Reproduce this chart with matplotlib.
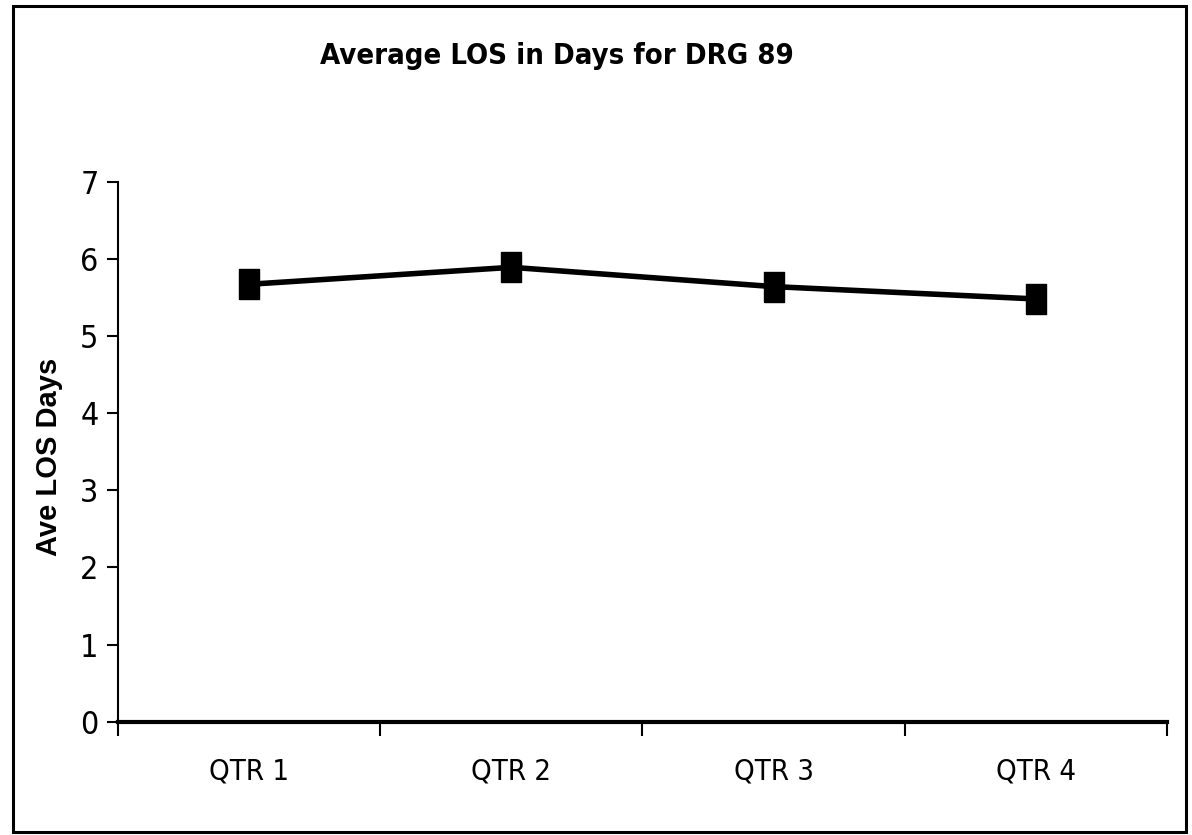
import matplotlib
matplotlib.use('Agg')
import matplotlib.pyplot as plt
from matplotlib.patches import Rectangle

# data
quarters = ['QTR 1', 'QTR 2', 'QTR 3', 'QTR 4']
avg_los = [5.67, 5.89, 5.64, 5.48]

NARROW = ['DejaVu Sans']

fig = plt.figure(figsize=(11.92, 8.35), dpi=100)
# outer frame like the spreadsheet chart area
fig.patches.append(Rectangle((0.011, 0.003), 0.984, 0.990, transform=fig.transFigure,
                             fill=False, edgecolor='black', linewidth=2.2))

ax = fig.add_axes([0.099, 0.1357, 0.880, 0.6467])
x = list(range(len(quarters)))
# tall square marker, like the excel one
tall_box = [(-0.68, -1), (0.68, -1), (0.68, 1), (-0.68, 1), (-0.68, -1)]
ax.plot(x, avg_los, color='black', linewidth=4, marker=tall_box, markersize=21,
        markerfacecolor='black', markeredgecolor='black', solid_joinstyle='round')

ax.set_xlim(-0.5, len(quarters) - 0.5)
ax.set_ylim(0, 7)
ax.set_yticks(range(0, 8))
ax.set_xticks(x)
ax.set_xticklabels(quarters)
ax.set_xticks([i - 0.5 for i in range(len(quarters) + 1)], minor=True)

for s in ['top', 'right']:
    ax.spines[s].set_visible(False)
ax.spines['left'].set_linewidth(1.5)
ax.spines['bottom'].set_linewidth(3)

ax.tick_params(axis='x', which='major', length=0, pad=26)
ax.tick_params(axis='x', which='minor', length=10, width=1.5, direction='out')
ax.tick_params(axis='y', length=8, width=1.5, pad=6)

for lab in ax.get_xticklabels():
    lab.set_family(NARROW)
    lab.set_stretch('condensed')
    lab.set_fontsize(21)
for lab in ax.get_yticklabels():
    lab.set_family(NARROW)
    lab.set_stretch('condensed')
    lab.set_fontsize(23)

ax.set_ylabel('Ave LOS Days', fontsize=21, fontweight='bold',
              family=['Liberation Sans', 'DejaVu Sans'])
ax.yaxis.set_label_coords(-0.0525, 0.49)

fig.text(0.467, 0.933, 'Average LOS in Days for DRG 89', ha='center', va='center',
         fontsize=21, fontweight='bold', family=NARROW, fontstretch='condensed')

fig.savefig('out.png', dpi=100)
